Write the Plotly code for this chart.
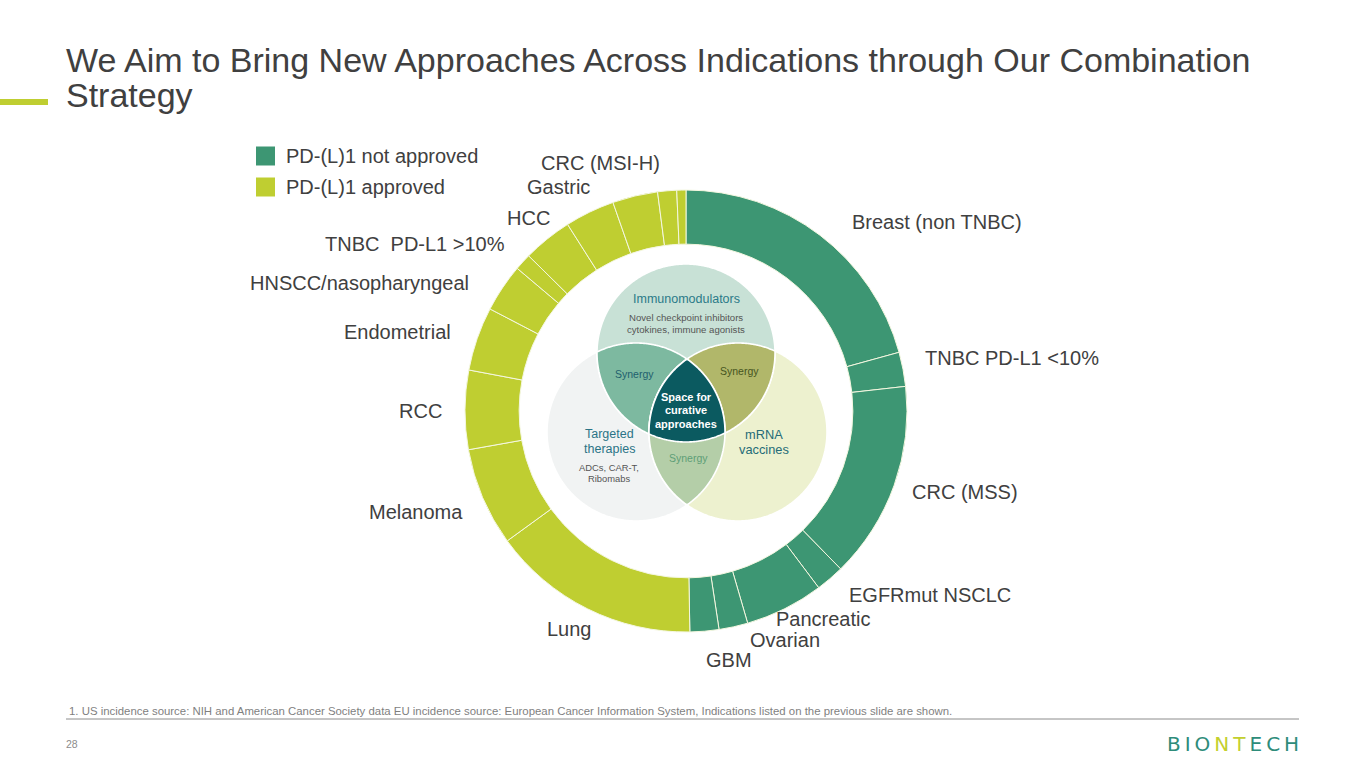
import numpy as np
import plotly.graph_objects as go

# ---------------- data ----------------
indications = [
    "Breast (non TNBC)", "TNBC PD-L1 <10%", "CRC (MSS)", "EGFRmut NSCLC",
    "Pancreatic", "Ovarian", "GBM",
    "Lung", "Melanoma", "RCC", "Endometrial", "HNSCC/nasopharyngeal",
    "TNBC  PD-L1 >10%", "HCC", "Gastric", "CRC (MSI-H)",
    "Other approved 1", "Other approved 2",
]
share = [74.6, 9.0, 52.0, 7.5, 20.7, 7.6, 7.6,
         55.0, 25.9, 20.8, 16.8, 12.7, 4.4, 13.0, 13.1, 11.9, 5.0, 2.4]
status = ["PD-(L)1 not approved"] * 7 + ["PD-(L)1 approved"] * 11
shown_label = [True] * 16 + [False] * 2

legend_items = ["PD-(L)1 not approved", "PD-(L)1 approved"]

venn_sets = ["Immunomodulators", "Targeted therapies", "mRNA vaccines"]

title_lines = ["We Aim to Bring New Approaches Across Indications through Our Combination",
               "Strategy"]
footnote = ("1. US incidence source: NIH and American Cancer Society data EU incidence source: "
            "European Cancer Information System, Indications listed on the previous slide are shown.")
page_no = "28"

# ---------------- styles / layout ----------------
W, H = 1365, 768
GREEN = "#3D9673"
LIME = "#BFCE31"
TXT = "#404040"
status_color = {"PD-(L)1 not approved": GREEN, "PD-(L)1 approved": LIME}

label_pos = {  # left edge x, middle y (pixels)
    "Breast (non TNBC)": (852, 222),
    "TNBC PD-L1 <10%": (925, 358),
    "CRC (MSS)": (912, 492),
    "EGFRmut NSCLC": (849, 595),
    "Pancreatic": (776, 619),
    "Ovarian": (750, 640),
    "GBM": (706, 660),
    "Lung": (547, 629),
    "Melanoma": (369, 512),
    "RCC": (399, 411),
    "Endometrial": (344, 332),
    "HNSCC/nasopharyngeal": (250, 283),
    "TNBC  PD-L1 >10%": (325, 244),
    "HCC": (507, 218),
    "Gastric": (527, 187),
    "CRC (MSI-H)": (541, 163),
}

cx, cy, R = 686, 411, 221

fig = go.Figure()

fig.add_trace(go.Pie(
    labels=indications, values=share, sort=False, direction="clockwise", rotation=0,
    hole=0.755, textinfo="none", hoverinfo="label",
    marker=dict(colors=[status_color[s] for s in status],
                line=dict(color="#F4F7E0", width=1)),
    domain=dict(x=[(cx - R) / W, (cx + R) / W], y=[1 - (cy + R) / H, 1 - (cy - R) / H]),
    showlegend=False,
))

shapes = []
annotations = []

# ---------------- venn diagram ----------------
circ = {
    "Immunomodulators": (686, 353, 89),
    "Targeted therapies": (636, 432, 89),
    "mRNA vaccines": (738, 432, 89),
}
region_color = {
    ("Targeted therapies",): "#F1F3F3",
    ("mRNA vaccines",): "#EDF1CF",
    ("Immunomodulators",): "#C8E1D6",
    ("Immunomodulators", "Targeted therapies"): "#7DB9A0",
    ("Immunomodulators", "mRNA vaccines"): "#B1B76A",
    ("Targeted therapies", "mRNA vaccines"): "#B4CEA8",
    ("Immunomodulators", "Targeted therapies", "mRNA vaccines"): "#0B5A60",
}


def disk_intersection_path(names, n=720):
    pts = []
    for nm in names:
        x0, y0, r0 = circ[nm]
        t = np.linspace(0, 2 * np.pi, n, endpoint=False)
        px = x0 + r0 * np.cos(t)
        py = y0 + r0 * np.sin(t)
        ok = np.ones(n, bool)
        for other in names:
            if other == nm:
                continue
            x1, y1, r1 = circ[other]
            ok &= (px - x1) ** 2 + (py - y1) ** 2 <= r1 ** 2 + 0.5
        pts += list(zip(px[ok], py[ok]))
    pts = np.array(pts)
    mx, my = pts.mean(axis=0)
    order = np.argsort(np.arctan2(pts[:, 1] - my, pts[:, 0] - mx))
    pts = pts[order]
    return "M " + " L ".join(f"{x:.2f},{y:.2f}" for x, y in pts) + " Z"


draw_order = [("Targeted therapies",), ("mRNA vaccines",), ("Immunomodulators",),
              ("Immunomodulators", "Targeted therapies"), ("Immunomodulators", "mRNA vaccines"),
              ("Targeted therapies", "mRNA vaccines"),
              ("Immunomodulators", "Targeted therapies", "mRNA vaccines")]
for key in draw_order:
    shapes.append(dict(type="path", xref="x", yref="y", path=disk_intersection_path(key),
                       fillcolor=region_color[key], line=dict(color="white", width=1.6),
                       layer="above"))


def ann(x, y, text, size, color, xanchor="center", bold=False, family="Liberation Sans, Arial"):
    if bold:
        text = f"<b>{text}</b>"
    annotations.append(dict(x=x, y=y, xref="x", yref="y", text=text, showarrow=False,
                            xanchor=xanchor, yanchor="middle",
                            xshift=-2 if xanchor == "left" else 0,
                            font=dict(size=size, color=color, family=family)))


ann(686, 299, venn_sets[0], 12.5, "#2B7A88")
ann(686, 317, "Novel checkpoint inhibitors", 9.6, "#555555")
ann(686, 329, "cytokines, immune agonists", 9.6, "#555555")
ann(634, 374, "Synergy", 10.5, "#1F5F6E")
ann(739, 371, "Synergy", 10.5, "#46551E")
ann(686, 397, "Space for", 11, "white", bold=True)
ann(686, 410, "curative", 11, "white", bold=True)
ann(686, 424, "approaches", 11, "white", bold=True)
ann(609, 434, "Targeted", 12.5, "#2B7486")
ann(609, 449, "therapies", 12.5, "#2B7486")
ann(609, 467, "ADCs, CAR-T,", 9.4, "#555555")
ann(609, 478, "Ribomabs", 9.4, "#555555")
ann(764, 434, "mRNA", 12.8, "#256C78")
ann(764, 449, "vaccines", 12.8, "#256C78")
ann(688, 458, "Synergy", 10.5, "#5E9E77")

# ---------------- slice labels ----------------
for name, show in zip(indications, shown_label):
    if show:
        x, y = label_pos[name]
        ann(x, y, name, 20, TXT, xanchor="left")

# ---------------- legend ----------------
leg_y = [156, 187]
for item, y in zip(legend_items, leg_y):
    shapes.append(dict(type="rect", xref="x", yref="y", x0=256, x1=275, y0=y - 9.5, y1=y + 9.5,
                       fillcolor=status_color[item], line=dict(width=0)))
    ann(286, y, item, 20, TXT, xanchor="left")

# ---------------- title, bars, footer ----------------
ann(66, 60, title_lines[0], 34, TXT, xanchor="left")
ann(66, 95, title_lines[1], 34, TXT, xanchor="left")
shapes.append(dict(type="rect", xref="x", yref="y", x0=0, x1=48, y0=99, y1=105,
                   fillcolor=LIME, line=dict(width=0)))
ann(69, 711, footnote, 11.4, "#7F7F7F", xanchor="left")
shapes.append(dict(type="line", xref="x", yref="y", x0=66, x1=1299, y0=719, y1=719,
                   line=dict(color="#8C8C8C", width=1)))
ann(66, 744, page_no, 10.5, "#8C8C8C", xanchor="left")
annotations.append(dict(x=1301, y=744, xref="x", yref="y", showarrow=False, xanchor="right",
                        yanchor="middle",
                        text=("<span style='color:#2E8C7A'>B\u2009I\u2009O\u2009</span>"
                              "<span style='color:#C3CF2E'>N\u2009T\u2009</span>"
                              "<span style='color:#2E8C7A'>E\u2009C\u2009H</span>"),
                        font=dict(size=20, family="DejaVu Sans", color="#2E8C7A")))

fig.update_layout(
    width=W, height=H, margin=dict(l=0, r=0, t=0, b=0),
    paper_bgcolor="white", plot_bgcolor="white",
    xaxis=dict(range=[0, W], visible=False, fixedrange=True),
    yaxis=dict(range=[H, 0], visible=False, fixedrange=True),
    shapes=shapes, annotations=annotations, showlegend=False,
)

fig.write_html("out.html", config={"displayModeBar": False},
               post_script="document.body.style.margin='0';document.body.style.overflow='hidden';")
